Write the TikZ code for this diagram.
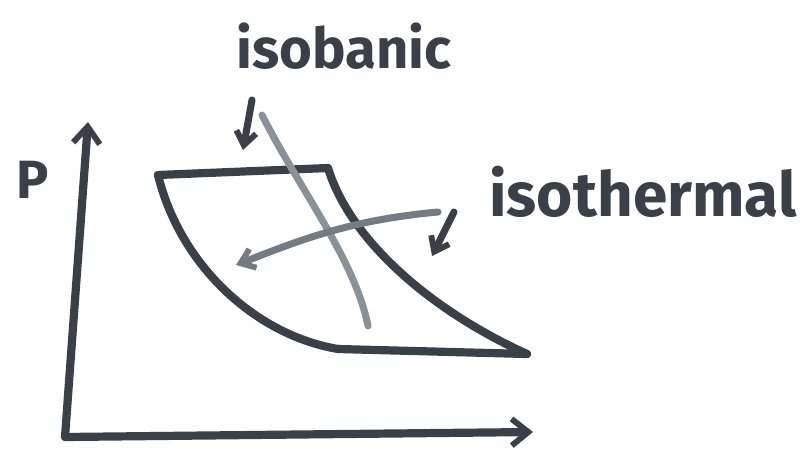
\documentclass[tikz,border=0pt]{standalone}
\usepackage{fontspec}
\setmainfont{Fira Sans}
\usetikzlibrary{arrows.meta,positioning}
\definecolor{marker}{HTML}{3B4048}
\definecolor{markerlight}{HTML}{8A9199}

\begin{document}
\begin{tikzpicture}[
    x=0.03cm, y=-0.03cm,
    label/.style={
      text=marker,
      font=\fontsize{48}{52}\selectfont\bfseries,
      inner sep=0pt
    },
    axis/.style={draw=marker, line width=7pt, line cap=round, line join=round,
      -{Straight Barb[length=5mm, width=8mm, line width=5pt]}},
    curve/.style={draw=marker, line width=7pt, line cap=round, line join=round},
    pointer/.style={draw=markerlight, line width=6pt, line cap=round},
    tip/.style={draw=marker, line width=6pt, line cap=round,
      -{Straight Barb[length=4mm, width=6mm, line width=5pt]}},
]
    \useasboundingbox (0,0) rectangle (807,466);

    % axes
    \coordinate (origin) at (65,437);
    \coordinate (ptop) at (88,122);
    \coordinate (vright) at (533,432);
    \path [axis] (origin) -- (ptop);
    \path [axis] (origin) -- (vright);
    \node [label, font=\fontsize{46}{50}\selectfont\bfseries] (plabel) at (33,180) {P};

    % cycle corners
    \coordinate (a) at (158,175);
    \coordinate (b) at (328,168);
    \coordinate (c) at (527,354);
    \coordinate (d) at (338,349);

    \path [curve] (a) -- (b);
    \path [curve] (d) -- (c);
    \path [curve] (a) .. controls (180,265) and (255,335) .. (d);
    \path [curve] (b) .. controls (350,240) and (430,310) .. (c);

    % labels
    \node [label] (isobaric) at (344,46) {isobanic};
    \node [label, font=\fontsize{53}{57}\selectfont\bfseries] (isothermal) at (643,192) {isothermal};

    % pointers
    \coordinate (barstart) at (262,115);
    \coordinate (barend) at (368,326);
    \path [pointer] (barstart) .. controls (300,190) and (355,260) .. (barend);
    \coordinate (thstart) at (438,212);
    \coordinate (thend) at (236,265);
    \path [pointer, draw=markerlight!85!black,
      -{Straight Barb[length=4mm, width=6mm, line width=5pt]}]
      (thstart) .. controls (350,220) and (300,240) .. (thend);
    \coordinate (isobaricfrom) at (252,100);
    \coordinate (isobaricto) at (243,150);
    \coordinate (isothermalfrom) at (454,212);
    \coordinate (isothermalto) at (432,256);
    \path [tip] (isobaricfrom) -- (isobaricto);
    \path [tip] (isothermalfrom) -- (isothermalto);

\end{tikzpicture}
\end{document}
